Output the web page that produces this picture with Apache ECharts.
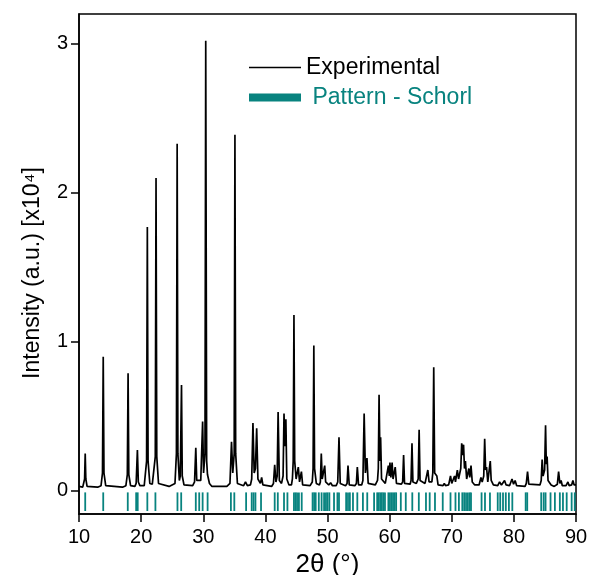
<!DOCTYPE html>
<html><head><meta charset="utf-8">
<script src="https://cdn.jsdelivr.net/npm/echarts@6/dist/echarts.min.js"></script>
<style>html,body{margin:0;padding:0;background:#fff}#c{width:589px;height:575px}</style>
</head><body><div id="c"></div>
<script>
// ---- data ----
const xTicks = [10, 20, 30, 40, 50, 60, 70, 80, 90];
const yTicks = [0, 1, 2, 3];

// Experimental XRD profile: [2theta, intensity (x10^4)]
const experimental = [
  [10.0,0.03],[10.6,0.025],
  [10.75,0.03],[10.9,0.08],[11.0,0.25],[11.1,0.08],[11.3,0.03],
  [13.0,0.025],
  [13.55,0.035],[13.78,0.12],[13.9,0.90],[14.02,0.12],[14.3,0.035],
  [17.0,0.025],
  [17.55,0.035],[17.78,0.11],[17.9,0.79],[18.02,0.11],[18.3,0.035],
  [19.0,0.03],
  [19.2,0.05],[19.4,0.275],[19.55,0.06],[19.8,0.035],
  [20.5,0.035],
  [20.65,0.045],[20.88,0.2],[21.0,1.77],[21.12,0.2],[21.4,0.05],
  [21.8,0.045],
  [22.05,0.055],[22.28,0.23],[22.4,2.10],[22.52,0.23],[22.8,0.05],
  [24.5,0.03],
  [25.45,0.05],[25.68,0.25],[25.8,2.33],[25.92,0.25],[26.15,0.07],
  [26.3,0.1],[26.5,0.71],[26.62,0.1],[26.9,0.04],
  [28.3,0.035],
  [28.6,0.06],[28.8,0.29],[28.95,0.07],[29.2,0.06],
  [29.6,0.07],[29.9,0.465],[30.05,0.12],
  [30.28,0.25],[30.4,3.02],[30.55,0.2],[30.68,0.11],[30.8,0.12],[31.0,0.05],[31.4,0.03],
  [33.8,0.03],
  [34.3,0.05],[34.55,0.33],[34.75,0.12],
  [34.98,0.25],[35.1,2.39],[35.22,0.25],[35.5,0.05],
  [36.5,0.035],[36.8,0.06],[37.1,0.035],
  [37.6,0.04],
  [37.8,0.08],[38.0,0.455],[38.2,0.12],
  [38.4,0.15],[38.6,0.42],[38.8,0.08],
  [39.2,0.05],[39.4,0.09],[39.6,0.04],
  [41.0,0.03],
  [41.3,0.05],[41.5,0.175],[41.7,0.06],
  [41.9,0.1],[42.05,0.53],[42.25,0.07],
  [42.6,0.05],
  [42.85,0.1],[43.0,0.52],[43.15,0.3],[43.3,0.48],[43.45,0.08],[43.8,0.04],
  [44.2,0.04],
  [44.35,0.08],[44.48,0.2],[44.6,1.18],[44.72,0.2],[44.95,0.08],
  [45.3,0.16],[45.5,0.06],
  [45.8,0.13],[46.0,0.04],
  [47.2,0.035],
  [47.55,0.06],[47.68,0.15],[47.8,0.975],[47.92,0.15],[48.2,0.05],
  [48.7,0.04],
  [48.85,0.06],[49.0,0.25],[49.15,0.08],
  [49.4,0.07],[49.55,0.17],[49.7,0.06],
  [50.0,0.06],[50.2,0.04],[50.5,0.055],[50.8,0.035],
  [51.4,0.035],
  [51.65,0.06],[51.85,0.36],[52.05,0.05],
  [52.9,0.035],
  [53.15,0.05],[53.3,0.17],[53.5,0.04],
  [54.4,0.035],
  [54.65,0.05],[54.8,0.16],[55.0,0.04],
  [55.5,0.04],
  [55.7,0.07],[55.9,0.52],[56.1,0.12],
  [56.35,0.22],[56.55,0.05],
  [57.7,0.04],
  [58.05,0.07],[58.18,0.15],[58.3,0.645],[58.45,0.2],[58.55,0.36],[58.7,0.08],
  [59.3,0.05],
  [59.6,0.06],[59.8,0.17],[59.95,0.1],[60.05,0.19],[60.2,0.09],[60.4,0.19],[60.55,0.08],[60.9,0.16],[61.1,0.05],
  [61.9,0.045],
  [62.1,0.06],[62.25,0.24],[62.4,0.05],
  [63.3,0.045],
  [63.45,0.07],[63.6,0.32],[63.75,0.06],
  [64.3,0.05],
  [64.6,0.08],[64.75,0.41],[64.9,0.07],
  [65.7,0.05],
  [66.0,0.06],[66.15,0.14],[66.35,0.06],
  [66.8,0.06],
  [66.95,0.12],[67.1,0.83],[67.25,0.12],
  [67.6,0.1],[67.8,0.04],
  [68.6,0.035],[68.8,0.05],[69.0,0.035],
  [69.5,0.04],
  [69.8,0.1],[70.0,0.05],
  [70.3,0.06],[70.45,0.1],[70.6,0.06],
  [70.9,0.14],[71.1,0.08],
  [71.45,0.15],[71.6,0.32],[71.75,0.24],[71.9,0.31],[72.05,0.15],[72.2,0.2],[72.4,0.08],
  [72.75,0.15],[72.9,0.09],[73.1,0.17],[73.3,0.06],[73.5,0.07],[73.7,0.04],
  [74.4,0.04],
  [74.7,0.09],[74.9,0.06],
  [75.15,0.1],[75.3,0.35],[75.45,0.14],[75.6,0.16],[75.8,0.06],
  [76.05,0.07],[76.2,0.2],[76.35,0.07],[76.5,0.07],[76.7,0.04],
  [77.4,0.035],
  [77.7,0.06],[78.0,0.04],[78.5,0.07],[78.75,0.04],[79.0,0.05],[79.3,0.035],[79.7,0.08],[79.95,0.045],[80.2,0.07],[80.45,0.035],
  [81.8,0.03],
  [82.0,0.05],[82.2,0.13],[82.4,0.045],
  [84.2,0.04],
  [84.4,0.07],[84.55,0.21],[84.7,0.1],
  [84.95,0.14],[85.1,0.44],[85.22,0.18],[85.35,0.23],[85.5,0.07],
  [86.0,0.04],[86.25,0.05],[86.5,0.03],
  [87.0,0.045],[87.2,0.13],[87.4,0.05],[87.6,0.07],[87.8,0.035],
  [88.4,0.035],[88.7,0.06],[88.9,0.035],[89.3,0.04],[89.5,0.07],[89.7,0.04],[90.0,0.04]
];

// Reference pattern (Schorl) reflection positions, 2theta
const patternTicks = [
  11.0, 13.9, 17.85, 19.2, 19.45, 21.0, 22.3,
  25.85, 26.45, 28.8, 29.35, 29.9, 30.7,
  34.45, 35.0, 36.9, 37.8, 38.1, 38.4, 39.3,
  41.5, 42.0, 43.0, 43.55,
  44.6, 44.85, 45.1, 45.4, 45.85,
  47.6, 47.85, 48.1, 48.6, 49.05, 49.45, 49.75, 50.0, 50.3, 51.05, 51.6, 51.85,
  53.0, 53.3, 53.6, 54.1, 54.8, 55.7, 56.4, 57.5,
  58.0, 58.25, 58.5, 58.75, 59.0, 59.25,
  59.8, 60.05, 60.3, 60.55, 60.8, 61.05,
  61.8, 62.6, 63.65, 64.7, 65.85, 66.45, 67.3, 68.55, 69.8, 70.6, 71.15,
  71.7, 72.0, 72.3, 72.6, 72.9, 73.1,
  74.8, 75.35, 76.15, 77.4, 77.8, 78.25, 78.7, 79.2, 79.75,
  81.9, 82.15, 84.4, 84.8, 85.1, 85.9, 86.6, 87.4, 87.9, 88.5, 89.3, 89.8
];

// ---- chart ----
const FONT = '"Liberation Sans", Arial, sans-serif';
const TEAL = '#08837f';
const TICK_TOP = -0.01, TICK_BOTTOM = -0.135;

const chart = echarts.init(document.getElementById('c'), null, {renderer: 'canvas'});
chart.setOption({
  animation: false,
  backgroundColor: '#fff',
  grid: {left: 79, right: 13, top: 14, bottom: 61, show: true, borderColor: '#000', borderWidth: 1.5,
         containLabel: false, outerBoundsMode: 'none'},
  legend: {
    orient: 'vertical', left: 244, top: 51,
    itemWidth: 52, itemHeight: 8, itemGap: 7,
    textStyle: {fontSize: 23, fontFamily: FONT, color: '#000'},
    formatter: n => n === 'Pattern - Schorl' ? ' ' + n : n,
    data: [
      {name: 'Experimental', icon: 'path://M0,0H52V1.6H0Z'},
      {name: 'Pattern - Schorl', icon: 'rect', textStyle: {color: TEAL}}
    ]
  },
  xAxis: {
    type: 'value', min: xTicks[0], max: xTicks[xTicks.length - 1], interval: 10,
    axisLine: {onZero: false, lineStyle: {color: '#000', width: 1.5}},
    axisTick: {inside: false, length: 8, lineStyle: {color: '#000', width: 1.5}},
    axisLabel: {fontSize: 20, color: '#000', fontFamily: FONT, margin: 13},
    splitLine: {show: false},
    name: '2θ (°)', nameLocation: 'middle', nameGap: 26,
    nameTextStyle: {fontSize: 26, color: '#000', fontFamily: FONT}
  },
  yAxis: {
    type: 'value', min: -0.155, max: 3.2,
    axisLine: {onZero: false, lineStyle: {color: '#000', width: 1.5}},
    axisTick: {inside: false, length: 8, customValues: yTicks, lineStyle: {color: '#000', width: 1.5}},
    axisLabel: {customValues: yTicks, fontSize: 20, color: '#000', fontFamily: FONT, margin: 11},
    splitLine: {show: false},
    name: 'Intensity (a.u.) [x10⁴]', nameLocation: 'middle', nameGap: 35,
    nameTextStyle: {fontSize: 23, color: '#000', fontFamily: FONT, padding: [0, 18, 0, 0]}
  },
  series: [
    {
      type: 'line', name: 'Experimental', data: experimental,
      symbol: 'none', showSymbol: false, smooth: false,
      lineStyle: {color: '#000', width: 1.7}, itemStyle: {color: '#000'}, z: 3
    },
    {
      type: 'custom', name: 'Pattern - Schorl',
      data: patternTicks.map(v => [v, TICK_TOP, TICK_BOTTOM]),
      encode: {x: 0, y: [1, 2]},
      itemStyle: {color: TEAL},
      renderItem: (params, api) => {
        const p1 = api.coord([api.value(0), api.value(1)]);
        const p2 = api.coord([api.value(0), api.value(2)]);
        return {type: 'line', shape: {x1: p1[0], y1: p1[1], x2: p2[0], y2: p2[1]},
                style: {stroke: TEAL, lineWidth: 1.8}};
      },
      z: 2
    }
  ]
});
</script></body></html>
